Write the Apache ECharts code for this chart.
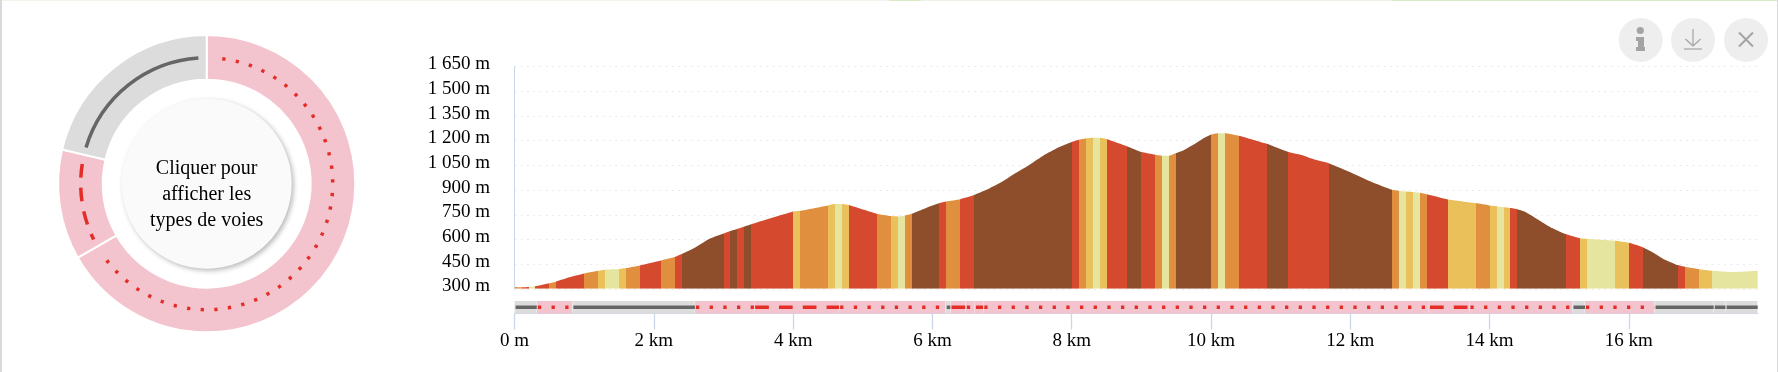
<!DOCTYPE html>
<html>
<head>
<meta charset="utf-8">
<title>Profil</title>
<style>
html,body{margin:0;padding:0;background:#fff;}
#chart{width:1778px;height:372px;}
</style>
<script src="https://cdn.jsdelivr.net/npm/echarts@6/dist/echarts.min.js"></script>
</head>
<body>
<div id="chart"></div>
<script>
// profil : distance (km) / altitude (m)
var distances = [0,0.1,0.2,0.3,0.5,0.6,0.8,1.0,1.2,1.3,1.5,1.6,1.8,2.1,2.3,2.4,2.6,2.8,3.0,3.2,3.4,4.0,4.1,4.5,4.6,4.7,4.8,5.2,5.4,5.5,5.6,5.7,5.9,6.1,6.2,6.4,6.6,6.8,7.0,7.2,7.4,7.6,7.8,8.0,8.1,8.2,8.3,8.4,8.5,8.8,9.0,9.2,9.3,9.4,9.5,9.6,9.7,9.8,9.9,10.0,10.1,10.2,10.4,10.8,11.1,11.3,11.5,11.7,12.0,12.3,12.6,12.7,13.0,13.1,13.4,13.8,14.0,14.2,14.4,14.5,14.6,14.7,14.8,14.9,15.0,15.1,15.3,15.4,15.8,16.0,16.2,16.3,16.4,16.5,16.6,16.7,16.8,17.0,17.2,17.5,17.85];
var altitudes = [311,309,311,316,334,345,371,393,409,416,420,426,442,472,493,511,553,604,636,665,693,770,774,807,815,815,809,756,742,740,744,756,790,821,831,845,870,906,950,1005,1056,1112,1157,1192,1206,1214,1218,1218,1210,1165,1131,1115,1109,1109,1125,1141,1165,1190,1216,1238,1246,1246,1230,1181,1133,1113,1084,1062,1009,951,902,896,884,874,843,821,807,797,784,770,746,720,693,669,649,632,608,604,592,580,553,531,507,480,462,444,434,420,409,401,409];

// pente : debut de chaque tranche (km) et classe
var slopeStarts = [0,0.1,0.2,0.3,0.5,0.6,1.0,1.2,1.3,1.5,1.6,1.8,2.1,2.3,2.4,3.0,3.1,3.2,3.3,3.4,4.0,4.1,4.5,4.6,4.7,4.8,5.2,5.4,5.5,5.6,5.7,6.1,6.2,6.4,6.6,8.0,8.1,8.2,8.3,8.4,8.5,8.8,9.0,9.2,9.3,9.4,9.5,10.0,10.1,10.2,10.4,10.8,11.1,11.7,12.6,12.7,12.8,12.9,13.0,13.1,13.4,13.8,14.0,14.1,14.2,14.3,14.4,15.1,15.3,15.4,15.8,16.0,16.2,16.7,16.8,17.0,17.2];
var slopeClasses = [2,3,0,3,2,3,2,1,0,1,2,3,2,3,4,3,4,3,4,3,1,2,1,0,1,3,2,1,0,2,4,3,2,3,4,3,2,1,0,1,3,4,3,2,0,2,4,2,0,2,3,4,3,4,2,0,1,0,2,3,1,2,1,0,1,3,4,3,1,0,1,3,4,3,2,1,0];

// types de voies : debut, fin (km), type
var roadStarts = [0,0.32,0.83,2.59,3.44,4.66,6.19,6.26,6.48,6.61,6.73,13.13,13.71,15.19,15.37,16.37,17.22,17.39];
var roadEnds = [0.32,0.83,2.59,3.44,4.66,6.19,6.26,6.48,6.61,6.73,13.13,13.71,15.19,15.37,16.37,17.22,17.39,17.85];
var roadTypes = ['gray','dotted','gray','dotted','dashed','dotted','gray','dashed','dotted','dashed','dotted','dashed','dotted','gray','dotted','gray','gray','gray'];

// anneau : part de chaque type
var ringNames = ['dotted','dashed','gray'];
var ringValues = [11.9,2.14,3.8];

var yTicks = [300,450,600,750,900,1050,1200,1350,1500,1650];
var xTicks = [0,2,4,6,8,10,12,14,16];
var xMax = 17.85;
var ringText = 'Cliquer pour\nafficher les\ntypes de voies';

var slopeColors = ['#e6e5a0','#e9c05a','#e08f3e','#d5492f','#8e4d2b'];
var serif = '"Liberation Serif"';
var redLine = '#e52d27';
var grayLine = '#666666';
var axisColor = '#ccd6eb';

var typeStyles = {
	dotted:{band:'#f3c4ce',stroke:redLine,dash:[3.3,10.37]},
	dashed:{band:'#f3c4ce',stroke:redLine,dash:[13.7,10.1]},
	gray:{band:'#dcdcdc',stroke:grayLine,dash:null}
};
// angles (deg) laisses libres au bout de chaque arc
var ringInsets = {
	dotted:{from:7.1,to:4.5,clockwise:true},
	dashed:{from:3.6,to:4.3,clockwise:false},
	gray:{from:3.4,to:3.8,clockwise:true}
};

var profileData = distances.map(function(d,i){ return [d,altitudes[i]]; });
var roadData = roadStarts.map(function(s,i){ return [s,roadEnds[i],roadTypes[i]]; });

var slopePieces = slopeStarts.map(function(s,i){
	var end = i<slopeStarts.length-1 ? slopeStarts[i+1] : xMax+1;
	return {gte:s,lt:end,color:slopeColors[slopeClasses[i]]};
});

var ringTotal = ringValues.reduce(function(a,b){ return a+b; },0);
var ringLineData = [];
var ringSum = 0;
ringValues.forEach(function(v,i){
	ringLineData.push([ringSum,ringSum+v,ringNames[i]]);
	ringSum += v;
});

var renderRoad = function(params,api){
	var style = typeStyles[api.value(2)];
	var a = api.coord([api.value(0),1]);
	var b = api.coord([api.value(1),0]);
	var mid = api.coord([api.value(0),0.5])[1];
	var lineStyle = {stroke:style.stroke,lineWidth:3.5,fill:null};
	if(style.dash){ lineStyle.lineDash = style.dash; }
	return {
		type:'group',
		children:[{
			type:'rect',
			shape:{x:a[0],y:a[1],width:b[0]-a[0]-0.3,height:b[1]-a[1]},
			style:{fill:style.band}
		},{
			type:'line',
			shape:{x1:a[0]+1,y1:mid,x2:b[0],y2:mid},
			style:lineStyle
		}]
	};
};

var renderRingLine = function(params,api){
	var name = api.value(2);
	var style = typeStyles[name];
	var inset = ringInsets[name];
	var cs = params.coordSys;
	var p0 = api.coord([1,api.value(0)]);
	var p1 = api.coord([1,api.value(1)]);
	var rad = Math.PI/180;
	var a0 = Math.atan2(p0[1]-cs.cy,p0[0]-cs.cx)+inset.from*rad;
	var a1 = Math.atan2(p1[1]-cs.cy,p1[0]-cs.cx)-inset.to*rad;
	if(name=='gray' && a1<a0){ a1 += 2*Math.PI; }
	var lineStyle = {stroke:style.stroke,lineWidth:3.5,fill:null};
	if(style.dash){ lineStyle.lineDash = style.dash; }
	return {
		type:'arc',
		shape:{
			cx:cs.cx,cy:cs.cy,r:cs.r,
			startAngle:inset.clockwise ? a0 : a1,
			endAngle:inset.clockwise ? a1 : a0,
			clockwise:inset.clockwise
		},
		style:lineStyle
	};
};

// boutons en haut a droite
var iconColor = '#a3a3a3';
var buttonCircle = function(x){
	return {type:'circle',shape:{cx:x,cy:40,r:22},style:{fill:'#eeeeee'},silent:true};
};
var iconLine = function(x1,y1,x2,y2,w){
	return {type:'line',shape:{x1:x1,y1:y1,x2:x2,y2:y2},style:{stroke:iconColor,lineWidth:w},silent:true};
};
var topStrip = function(x,w,color){
	return {type:'rect',shape:{x:x,y:0,width:w,height:1},style:{fill:color},silent:true};
};

var charts = echarts.init(document.getElementById('chart'));
charts.setOption({
	animation:false,
	backgroundColor:'#ffffff',
	textStyle:{fontFamily:serif},
	title:{
		text:ringText,
		left:206.7,top:156,padding:0,
		textAlign:'center',
		z:6,
		textStyle:{color:'#000',fontSize:20,fontWeight:'normal',lineHeight:26,fontFamily:serif}
	},
	grid:[
		{left:514.6,top:66.7,width:1243.1,height:222.1},
		{left:514.6,top:301,width:1243.1,height:12.5}
	],
	polar:{center:[206.7,183.7],radius:[0,126]},
	angleAxis:{type:'value',min:0,max:ringTotal,startAngle:90,show:false},
	radiusAxis:{type:'value',min:0,max:1,show:false},
	xAxis:[{
		gridIndex:0,type:'value',min:0,max:xMax,show:false
	},{
		gridIndex:1,type:'value',min:0,max:xMax,
		axisLine:{show:true,lineStyle:{color:axisColor,width:1}},
		axisTick:{show:true,length:16,lineStyle:{color:axisColor,width:1.3},customValues:xTicks},
		splitLine:{show:false},
		axisLabel:{
			customValues:xTicks,
			color:'#000',fontSize:19,fontFamily:serif,margin:18,
			formatter:function(v){ return v==0 ? '0 m' : v+' km'; }
		}
	}],
	yAxis:[{
		gridIndex:0,type:'value',min:yTicks[0],max:yTicks[yTicks.length-1],interval:150,
		axisLine:{show:true,lineStyle:{color:axisColor,width:1}},
		axisTick:{show:false},
		splitLine:{show:true,lineStyle:{color:'#e6e6e6',width:1,type:[1.5,4.8]}},
		axisLabel:{
			color:'#000',fontSize:19,fontFamily:serif,margin:24.6,
			verticalAlign:'bottom',lineHeight:5,
			formatter:function(v){ return String(v).replace(/\B(?=(\d{3})+$)/g,' ')+' m'; }
		}
	},{
		gridIndex:1,type:'value',min:0,max:1,show:false
	}],
	visualMap:[{
		type:'piecewise',show:false,seriesIndex:0,dimension:0,
		pieces:slopePieces,outOfRange:{color:slopeColors[0]}
	}],
	series:[{
		type:'line',
		xAxisIndex:0,yAxisIndex:0,
		data:profileData,
		showSymbol:false,
		smooth:0.15,
		lineStyle:{width:0},
		areaStyle:{opacity:1},
		silent:true
	},{
		type:'custom',
		xAxisIndex:1,yAxisIndex:1,
		data:roadData,
		renderItem:renderRoad,
		silent:true
	},{
		type:'pie',
		center:[206.7,183.7],
		radius:[104,148.6],
		startAngle:90,
		clockwise:true,
		silent:true,
		label:{show:false},
		labelLine:{show:false},
		itemStyle:{borderColor:'#fff',borderWidth:2},
		data:ringNames.map(function(n,i){
			return {name:n,value:ringValues[i],itemStyle:{color:typeStyles[n].band}};
		})
	},{
		type:'custom',
		coordinateSystem:'polar',
		data:ringLineData,
		renderItem:renderRingLine,
		silent:true,
		z:5
	},{
		type:'pie',
		center:[206.7,183.7],
		radius:[0,85],
		silent:true,
		z:4,
		label:{show:false},
		labelLine:{show:false},
		itemStyle:{
			color:'#fafafa',
			shadowColor:'rgba(0,0,0,0.28)',shadowBlur:5,shadowOffsetX:2,shadowOffsetY:2
		},
		data:[{name:'voies',value:1}]
	}],
	graphic:[
		{type:'rect',shape:{x:0,y:0,width:2,height:372},style:{fill:'#d9d9d9'},silent:true},
		{type:'rect',shape:{x:1777,y:0,width:1,height:372},style:{fill:'#d9d9d9'},silent:true},
		topStrip(2,887,'#f1f4ea'),
		topStrip(889,32,'#d8ebc4'),
		topStrip(921,471,'#efefe8'),
		topStrip(1392,385,'#d8ebc4'),
		buttonCircle(1640.7),
		buttonCircle(1693),
		buttonCircle(1746),
		// info
		{type:'circle',shape:{cx:1640.3,cy:30.5,r:3.6},style:{fill:iconColor},silent:true},
		{type:'polygon',shape:{points:[[1636,37],[1644,37],[1644,47],[1645,47],[1645,51],[1636,51],[1636,47],[1638,47],[1638,41],[1636,41]]},style:{fill:iconColor},silent:true},
		// telecharger
		iconLine(1693,29,1693,46,1.2),
		iconLine(1685.5,39,1693,46,1.2),
		iconLine(1700.5,39,1693,46,1.2),
		iconLine(1684,49,1702,49,1.2),
		// fermer
		iconLine(1739,32.5,1753,46.5,2),
		iconLine(1753,32.5,1739,46.5,2)
	]
});
</script>
</body>
</html>
